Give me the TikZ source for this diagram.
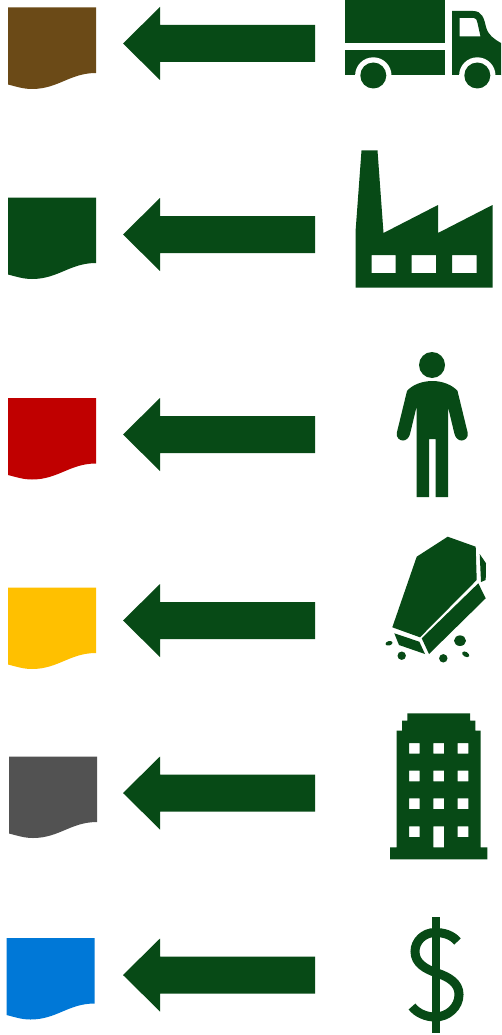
\documentclass[tikz,border=0pt]{standalone}
\definecolor{dkgreen}{HTML}{074A16}
\definecolor{docbrown}{HTML}{6B4A17}
\definecolor{docred}{HTML}{C00000}
\definecolor{docyellow}{HTML}{FFC000}
\definecolor{docgrey}{HTML}{525252}
\definecolor{docblue}{HTML}{0078D7}
\tikzset{
  ico/.style={fill=dkgreen,draw=none},
  hole/.style={fill=white,draw=none},
  blockarrow/.pic={\fill[dkgreen] (123,0) -- (160,-36.5) -- (160,-18.5) -- (315,-18.5) -- (315,18.5) -- (160,18.5) -- (160,36.5) -- cycle;},
  docshape/.pic={\fill[pic actions] (0,0) -- (88,0) -- (88,65.5) .. controls (62,65.5) and (50,81.5) .. (24,81.5) .. controls (15,81.5) and (8,79) .. (0,77) -- cycle;}
}
\begin{document}
\begin{tikzpicture}[x=1pt,y=-1pt,line join=miter]
\useasboundingbox[fill=white] (0,0) rectangle (501,1035);
% documents
\pic[fill=docbrown] at (8,7.5) {docshape};
\pic[fill=dkgreen] at (8,197.5) {docshape};
\pic[fill=docred] at (8,398) {docshape};
\pic[fill=docyellow] at (8,587.5) {docshape};
\pic[fill=docgrey] at (9,756.5) {docshape};
\pic[fill=docblue] at (6.5,938) {docshape};
% arrows
\foreach \yy in {43.5,234.5,434.5,620.5,793,975}{\pic at (0,\yy) {blockarrow};}
% truck
\fill[ico] (344.5,0) rectangle (445,43.5);
\fill[ico] (344.5,50.5) rectangle (445,75.5);
\fill[ico,even odd rule] (452,11) -- (473,11) .. controls (482,11) and (484,18) .. (486,27) .. controls (488,35) and (494,39) .. (501,43) -- (501,75.5) -- (452,75.5) -- cycle
  (459.5,18) -- (474,18) .. controls (476,18) and (477,20) .. (477.5,23) -- (480.5,36.5) -- (459.5,36.5) -- cycle;
\fill[hole] (373.3,75.5) circle (18.2);
\fill[hole] (477.3,75.5) circle (18.2);
\fill[hole] (340,75.5) rectangle (501,95);
\fill[ico] (373.3,75.5) circle (13);
\fill[ico] (477.3,75.5) circle (13);
% factory
\fill[ico,even odd rule] (361.5,150.5) -- (377.5,150.5) -- (383.5,233) -- (438,205) -- (438,233) -- (492.5,205) -- (492.5,287.5) -- (355.5,287.5) -- (355.5,232) -- cycle
  (371.5,255) rectangle (395.5,273)
  (411.5,255) rectangle (436,273)
  (452,255) rectangle (476.5,273);
% person
\fill[ico] (432,365) circle (13);
\fill[ico] (432.3,381) .. controls (422,381) and (412,385) .. (407,391) -- (397,432)
  .. controls (395.5,438) and (400,440.5) .. (403,440.5) .. controls (406,440.5) and (409,438) .. (410,434)
  -- (416.5,407) -- (416.5,497) -- (429,497) -- (429,439) -- (435.5,439) -- (435.5,497) -- (448,497) -- (448,407)
  -- (454.5,434) .. controls (455.5,438) and (458.5,440.5) .. (461.5,440.5) .. controls (464.5,440.5) and (469,438) .. (467.5,432)
  -- (457.5,391) .. controls (452.5,385) and (442.5,381) .. (432.3,381) -- cycle;
% coffin
\fill[ico] (447.7,536.7) -- (475.7,546.7) -- (476.7,580) -- (420,637.3) -- (392.3,627.3) -- (416.7,556.7) -- cycle;
\fill[ico] (479.7,554) -- (486,563.3) -- (485.7,580) -- (481,582) -- cycle;
\fill[ico] (478.3,583.3) -- (485.7,598.3) -- (429,654) -- (421.7,638.3) -- cycle;
\fill[ico] (394.3,633.3) -- (419.3,641.7) -- (425,654) -- (399,645) -- cycle;
\fill[ico] (460,640.7) ellipse [x radius=6,y radius=5.3];
\fill[ico] (401.7,655.7) circle (4.2);
\fill[ico] (443.3,658.3) circle (4.2);
\fill[ico] (389,643.3) ellipse [x radius=3.6,y radius=2.2,rotate=15];
\fill[ico] (465.7,654.3) ellipse [x radius=3.9,y radius=2.4,rotate=-30];
% building
\fill[ico,even odd rule] (407.3,713.3) -- (470,713.3) -- (470,720.7) -- (475.3,720.7) -- (475.3,730.7) -- (480.7,730.7) -- (480.7,847.3) -- (487.3,847.3) -- (487.3,859.3) -- (390,859.3) -- (390,847.3) -- (396.7,847.3) -- (396.7,730.7) -- (402,730.7) -- (402,720.7) -- (407.3,720.7) -- cycle
  (409,743) rectangle (419.7,753.7) (433.3,743) rectangle (444,753.7) (457.7,743) rectangle (468.3,753.7)
  (409,770.7) rectangle (419.7,781.3) (433.3,770.7) rectangle (444,781.3) (457.7,770.7) rectangle (468.3,781.3)
  (409,798.3) rectangle (419.7,809) (433.3,798.3) rectangle (444,809) (457.7,798.3) rectangle (468.3,809)
  (409,826.3) rectangle (419.7,837) (433.3,826.3) rectangle (444,847.3) (457.7,826.3) rectangle (468.3,837);
% dollar
\fill[ico] (431.7,917.3) rectangle (439.7,1033.3);
\draw[dkgreen,line width=9pt,line cap=butt] (457.5,941.5) .. controls (452,935) and (444,932.5) .. (435,932.5)
  .. controls (424,932.5) and (415,941) .. (415,951.5) .. controls (415,963) and (425,969) .. (437,973)
  .. controls (449,977) and (459,983) .. (459,994.5) .. controls (459,1007) and (448,1017) .. (435,1017)
  .. controls (426,1017) and (417,1013) .. (412,1006.5);
\end{tikzpicture}
\end{document}
